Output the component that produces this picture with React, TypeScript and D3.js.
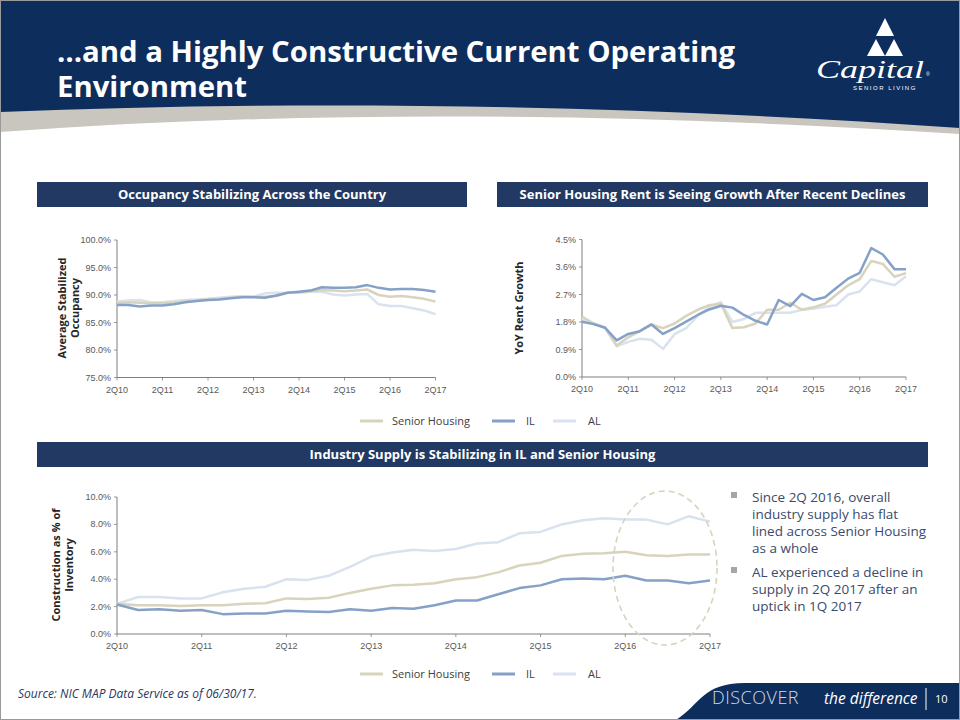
import React from "react";
import * as d3 from "d3";

const tickLabels = ["2Q10", "2Q11", "2Q12", "2Q13", "2Q14", "2Q15", "2Q16", "2Q17"];
const seriesNames = ["Senior Housing", "IL", "AL"];
const seriesColors = ["#d8d3bb", "#86a1c7", "#d9e2ef"];

const occupancySH = [88.5, 88.7, 88.6, 88.5, 88.5, 88.6, 88.9, 89.0, 89.2, 89.3, 89.5, 89.7, 89.7, 89.7, 89.8, 90.4, 90.5, 90.7, 90.9, 90.8, 90.7, 90.8, 91.0, 90.0, 89.7, 89.8, 89.6, 89.3, 88.8];
const occupancyIL = [88.2, 88.2, 87.9, 88.1, 88.1, 88.3, 88.7, 88.9, 89.1, 89.2, 89.4, 89.6, 89.6, 89.5, 89.9, 90.4, 90.6, 90.8, 91.4, 91.3, 91.3, 91.4, 91.8, 91.3, 91.0, 91.1, 91.1, 90.9, 90.6];
const occupancyAL = [88.8, 89.0, 89.1, 88.7, 88.7, 88.9, 89.1, 89.2, 89.3, 89.5, 89.7, 89.8, 89.7, 90.3, 90.4, 90.4, 90.4, 90.6, 90.6, 90.1, 89.9, 90.1, 90.2, 88.3, 88.0, 88.0, 87.6, 87.2, 86.5];
const occupancyTicks = [75, 80, 85, 90, 95, 100];

const rentSH = [1.98, 1.75, 1.62, 1.03, 1.30, 1.50, 1.72, 1.60, 1.75, 2.00, 2.20, 2.35, 2.40, 1.60, 1.63, 1.75, 2.20, 2.20, 2.43, 2.20, 2.28, 2.40, 2.70, 3.00, 3.20, 3.80, 3.70, 3.28, 3.40];
const rentIL = [1.81, 1.73, 1.61, 1.20, 1.41, 1.50, 1.72, 1.41, 1.60, 1.81, 2.03, 2.21, 2.33, 2.27, 2.03, 1.84, 1.72, 2.52, 2.32, 2.72, 2.52, 2.61, 2.92, 3.22, 3.41, 4.22, 4.01, 3.53, 3.53];
const rentAL = [1.90, 1.75, 1.60, 1.00, 1.15, 1.25, 1.22, 0.92, 1.40, 1.60, 2.00, 2.30, 2.45, 1.80, 1.90, 2.10, 2.10, 2.10, 2.10, 2.20, 2.23, 2.30, 2.35, 2.70, 2.80, 3.20, 3.10, 3.00, 3.30];
const rentTicks = [0, 0.9, 1.8, 2.7, 3.6, 4.5];

const supplySH = [2.2, 2.1, 2.1, 2.05, 2.1, 2.1, 2.2, 2.25, 2.6, 2.55, 2.65, 3.0, 3.3, 3.55, 3.6, 3.7, 4.0, 4.15, 4.5, 5.0, 5.2, 5.7, 5.85, 5.9, 6.0, 5.75, 5.7, 5.8, 5.8];
const supplyIL = [2.15, 1.75, 1.8, 1.7, 1.75, 1.45, 1.5, 1.5, 1.7, 1.65, 1.6, 1.8, 1.7, 1.9, 1.85, 2.1, 2.45, 2.45, 2.9, 3.35, 3.55, 4.0, 4.05, 4.0, 4.25, 3.9, 3.9, 3.7, 3.9];
const supplyAL = [2.2, 2.7, 2.7, 2.6, 2.6, 3.05, 3.3, 3.45, 4.0, 3.95, 4.25, 4.9, 5.65, 5.95, 6.15, 6.05, 6.2, 6.6, 6.7, 7.35, 7.45, 8.0, 8.3, 8.45, 8.35, 8.35, 8.0, 8.6, 8.2];
const supplyTicks = [0, 2, 4, 6, 8, 10];

const bullets = [
  ["Since 2Q 2016, overall", "industry supply has flat", "lined across Senior Housing", "as a whole"],
  ["AL experienced a decline in", "supply in 2Q 2017 after an", "uptick in 1Q 2017"],
];

const NAVY = "#0d2d5c";
const BAR = "#213963";
const SANS = "'Open Sans', 'DejaVu Sans', sans-serif";
const ARIAL = "'Liberation Sans', Arial, sans-serif";

type ChartProps = {
  x0: number; x1: number; y0: number; y1: number;
  domain: [number, number]; ticks: number[]; fmt: (v: number) => string;
  series: number[][];
};

function LineChart({ x0, x1, y0, y1, domain, ticks, fmt, series }: ChartProps) {
  const n = series[0].length;
  const x = d3.scaleLinear().domain([0, n - 1]).range([x0, x1]);
  const y = d3.scaleLinear().domain(domain).range([y1, y0]);
  const line = d3.line<number>().x((_, i) => x(i)).y((d) => y(d));
  const order = [2, 0, 1];
  return (
    <g>
      {ticks.map((t) => (
        <g key={t}>
          <line x1={x0 - 3} x2={x0} y1={y(t)} y2={y(t)} stroke="#7f7f7f" strokeWidth={0.8} />
          <text x={x0 - 6} y={y(t) + 3} textAnchor="end" fontFamily={ARIAL} fontSize={9} fill="#595959">{fmt(t)}</text>
        </g>
      ))}
      {tickLabels.map((lab, k) => (
        <g key={lab}>
          <line x1={x(k * 4)} x2={x(k * 4)} y1={y1} y2={y1 + 3} stroke="#7f7f7f" strokeWidth={0.8} />
          <text x={x(k * 4)} y={y1 + 15} textAnchor="middle" fontFamily={ARIAL} fontSize={9} fill="#595959">{lab}</text>
        </g>
      ))}
      <line x1={x0} x2={x0} y1={y0} y2={y1} stroke="#7f7f7f" strokeWidth={1} />
      <line x1={x0} x2={x1} y1={y1} y2={y1} stroke="#7f7f7f" strokeWidth={1} />
      {order.map((si) => (
        <path key={si} d={line(series[si]) || ""} fill="none" stroke={seriesColors[si]} strokeWidth={2.5} strokeLinejoin="round" />
      ))}
    </g>
  );
}

function Legend({ y }: { y: number }) {
  const items = [
    { lx: 360, tx: 392 },
    { lx: 492, tx: 526 },
    { lx: 553, tx: 588 },
  ];
  return (
    <g>
      {items.map((it, i) => (
        <g key={i}>
          <line x1={it.lx} x2={it.lx + 23} y1={y} y2={y} stroke={seriesColors[i]} strokeWidth={3} />
          <text x={it.tx} y={y + 4} fontFamily={SANS} fontSize={11} fill="#404040">{seriesNames[i]}</text>
        </g>
      ))}
    </g>
  );
}

function SectionBar({ x, y, w, label }: { x: number; y: number; w: number; label: string }) {
  return (
    <g>
      <rect x={x} y={y} width={w} height={25} fill={BAR} />
      <text x={x + w / 2} y={y + 17} textAnchor="middle" fontFamily={SANS} fontWeight={700} fontSize={13} fill="#ffffff">{label}</text>
    </g>
  );
}

function YLabel({ cx, cy, lines }: { cx: number; cy: number; lines: string[] }) {
  return (
    <g>
      {lines.map((l, i) => (
        <text key={i} transform={`translate(${cx + i * 12.5},${cy}) rotate(-90)`} textAnchor="middle" fontFamily={SANS} fontWeight={700} fontSize={11} fill="#262626">{l}</text>
      ))}
    </g>
  );
}

export default function App() {
  const pct1 = (v: number) => v.toFixed(1) + "%";
  return (
    <svg width={960} height={720} style={{ position: "absolute", left: 0, top: 0, background: "#ffffff" }}>
      <rect x={0} y={0} width={960} height={720} fill="#ffffff" />
      {/* header */}
      <path d="M0,104 C250,96 520,100 960,124 L960,134 C620,112 300,110 0,132 Z" fill="#c9c6bf" />
      <path d="M0,0 H960 V128 C620,104 300,100 0,112 Z" fill={NAVY} />
      <text x={57} y={62} fontFamily={SANS} fontWeight={700} fontSize={28} fill="#ffffff" textLength={678} lengthAdjust="spacingAndGlyphs">…and a Highly Constructive Current Operating</text>
      <text x={57} y={97} fontFamily={SANS} fontWeight={700} fontSize={28} fill="#ffffff" textLength={190} lengthAdjust="spacingAndGlyphs">Environment</text>
      {/* logo */}
      <path d="M885,18 L894,36 L876,36 Z" fill="#ffffff" />
      <path d="M876,39 L885,56 L867,56 Z" fill="#ffffff" />
      <path d="M894,39 L903,56 L885,56 Z" fill="#ffffff" />
      <text x={816} y={78} fontFamily="'Liberation Serif', serif" fontStyle="italic" fontSize={26} fill="#ffffff" textLength={108} lengthAdjust="spacingAndGlyphs">Capital</text>
      <text x={926} y={76} fontFamily={ARIAL} fontSize={5} fill="#ffffff">®</text>
      <text x={853} y={90} fontFamily={ARIAL} fontSize={6} fill="#ffffff" letterSpacing={1.5}>SENIOR LIVING</text>

      <SectionBar x={37} y={182} w={430} label="Occupancy Stabilizing Across the Country" />
      <SectionBar x={497} y={182} w={431} label="Senior Housing Rent is Seeing Growth After Recent Declines" />
      <SectionBar x={37} y={442} w={891} label="Industry Supply is Stabilizing in IL and Senior Housing" />

      <YLabel cx={66} cy={308} lines={["Average Stabilized", "Occupancy"]} />
      <LineChart x0={117} x1={435.5} y0={240} y1={377.5} domain={[75, 100]} ticks={occupancyTicks} fmt={pct1}
        series={[occupancySH, occupancyIL, occupancyAL]} />

      <YLabel cx={523} cy={308} lines={["YoY Rent Growth"]} />
      <LineChart x0={582} x1={906} y0={239.5} y1={377} domain={[0, 4.5]} ticks={rentTicks} fmt={pct1}
        series={[rentSH, rentIL, rentAL]} />

      <Legend y={421} />

      <YLabel cx={60} cy={565} lines={["Construction as % of", "Inventory"]} />
      <LineChart x0={117} x1={710} y0={497} y1={634} domain={[0, 10]} ticks={supplyTicks} fmt={pct1}
        series={[supplySH, supplyIL, supplyAL]} />
      <ellipse cx={665} cy={568} rx={52} ry={77} fill="none" stroke="#d8d3bb" strokeWidth={1.6} strokeDasharray="6,4" />

      {bullets.map((lines, b) => {
        const top = b === 0 ? 502 : 577;
        return (
          <g key={b}>
            <rect x={731} y={top - 10} width={6} height={6} fill="#a6a6a6" />
            {lines.map((l, i) => (
              <text key={i} x={752} y={top + i * 17} fontFamily={SANS} fontSize={13.5} fill="#3b4a6b">{l}</text>
            ))}
          </g>
        );
      })}

      <Legend y={674} />

      <text x={18} y={698} fontFamily={SANS} fontStyle="italic" fontSize={12} fill="#1f3864">Source: NIC MAP Data Service as of 06/30/17.</text>

      {/* footer */}
      <path d="M676,720 C700,705 702,683 745,683 H960 V720 Z" fill={NAVY} />
      <text x={712} y={704} fontFamily={SANS} fontWeight={300} fontSize={18} fill="#d4d9e3" letterSpacing={0.5}>DISCOVER</text>
      <text x={824} y={704} fontFamily={SANS} fontStyle="italic" fontSize={15.5} fill="#ffffff">the difference</text>
      <line x1={926} x2={926} y1={688} y2={710} stroke="#ffffff" strokeWidth={1} />
      <text x={935} y={703} fontFamily={SANS} fontSize={11} fill="#ffffff">10</text>
      <rect x={0.5} y={0.5} width={959} height={719} fill="none" stroke="#9a9a9a" strokeWidth={1} />
    </svg>
  );
}
